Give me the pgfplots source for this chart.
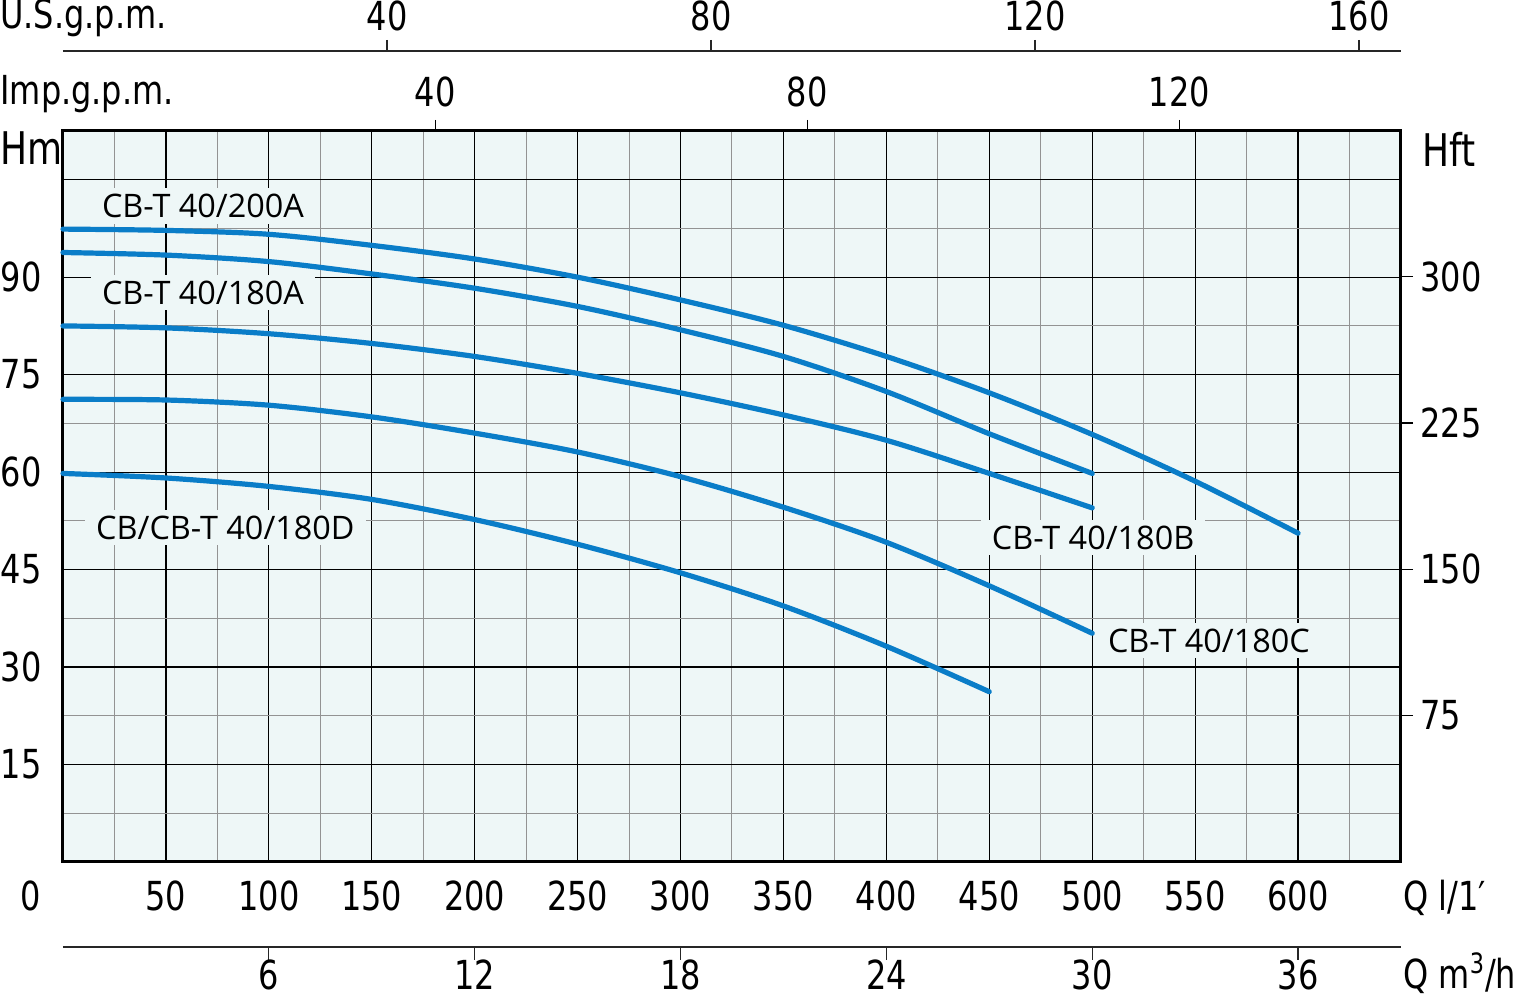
\documentclass[border=0pt]{standalone}
\usepackage{pgfplots}
\pgfplotsset{compat=1.18}
\usepackage{fontspec}
\setmainfont{Open Sans}
\newfontfamily\isofont[FakeStretch=0.8]{DejaVu Sans}
\definecolor{bgc}{HTML}{EEF7F7}
\definecolor{curve}{HTML}{0A7DC8}
\newcommand{\isof}{\isofont\fontsize{20}{20}\selectfont}
\newcommand{\isoH}{\isofont\fontsize{22.5}{22.5}\selectfont}
\tikzset{
  curvelabel/.style={fill=bgc, inner xsep=5.5pt, inner ysep=3pt, anchor=base, font=\fontsize{16.2}{16}\selectfont},
  pump/.style={draw=curve, line width=2.6pt, line cap=round, smooth, tension=0.5, mark=none},
}
\begin{document}
\begin{tikzpicture}
\path[use as bounding box] (-31.5pt,-66.5pt) rectangle (726.5pt,431pt);
% ---------- main axis ----------
\begin{axis}[
  at={(0pt,0pt)}, anchor=south west,
  scale only axis, width=669pt, height=365.5pt,
  xmin=0, xmax=650, ymin=0, ymax=112.5,
  axis background/.style={fill=bgc},
  axis line style={line width=1.5pt, black},
  xtick={50,100,...,600},
  xticklabels={50,100,150,200,250,300,350,400,450,500,550,600},
  ytick={15,30,...,105},
  yticklabels={15,30,45,60,75,90,},
  minor xtick={25,75,...,625},
  minor ytick={7.5,22.5,...,97.5},
  grid=both,
  major grid style={black, line width=0.6pt},
  minor grid style={gray!85, line width=0.5pt},
  major tick length=0pt, minor tick length=0pt,
  ticklabel style={font=\isof, inner sep=0pt},
  xticklabel style={anchor=base, yshift=-24.5pt},
  yticklabel style={anchor=east, xshift=-10.5pt},
  clip=false,
]
% CB-T 40/200A
\addplot[pump] coordinates {(0,97.4) (50,97.2) (100,96.6) (150,94.9) (200,92.8) (250,90.0) (300,86.5) (350,82.6) (400,77.8) (450,72.2) (500,65.8) (550,58.6) (600,50.6)};
% CB-T 40/180A
\addplot[pump] coordinates {(0,93.8) (50,93.4) (100,92.4) (150,90.5) (200,88.3) (250,85.5) (300,81.9) (350,77.8) (400,72.4) (450,65.9) (500,59.8)};
% CB-T 40/180B
\addplot[pump] coordinates {(0,82.5) (50,82.2) (100,81.3) (150,79.8) (200,77.8) (250,75.2) (300,72.2) (350,68.8) (400,64.9) (450,59.8) (500,54.5)};
% CB-T 40/180C
\addplot[pump] coordinates {(0,71.2) (50,71.1) (100,70.3) (150,68.5) (200,66.0) (250,63.1) (300,59.3) (350,54.6) (400,49.2) (450,42.5) (500,35.2)};
% CB/CB-T 40/180D
\addplot[pump] coordinates {(0,59.8) (50,59.1) (100,57.8) (150,55.8) (200,52.7) (250,48.9) (300,44.5) (350,39.4) (400,33.2) (450,26.2)};
\node[curvelabel] at (axis cs:68,99.23) {CB-T 40/200A};
\node[curvelabel] at (axis cs:68,85.85) {CB-T 40/180A};
\node[curvelabel] at (axis cs:78.9,49.69) {CB/CB-T 40/180D};
\node[curvelabel] at (axis cs:500.4,48.15) {CB-T 40/180B};
\node[curvelabel] at (axis cs:556.7,32.31) {CB-T 40/180C};
\end{axis}
% ---------- right axis: feet ----------
\begin{axis}[
  at={(0pt,0pt)}, anchor=south west,
  scale only axis, width=669pt, height=365.5pt,
  xmin=0, xmax=650, ymin=0, ymax=374.625,
  hide x axis, axis y line*=right, y axis line style={draw=none},
  ytick={75,150,225,300}, yticklabels={75,150,225,300},
  tick align=outside, major tick length=6pt,
  tick style={black, line width=0.6pt},
  yticklabel style={font=\isof, anchor=west, inner sep=0pt, xshift=3.5pt},
]
\end{axis}
% ---------- top axis: Imp.g.p.m. ----------
\begin{axis}[
  at={(0pt,0pt)}, anchor=south west,
  scale only axis, width=669pt, height=365.5pt,
  xmin=0, xmax=143.805, ymin=0, ymax=1,
  hide y axis, axis x line*=top, x axis line style={draw=none},
  xtick={40,80,120}, xticklabels={40,80,120},
  tick align=outside, major tick length=5.5pt,
  tick style={black, line width=0.6pt},
  xticklabel style={font=\isof, anchor=base, inner sep=0pt, yshift=6.5pt},
]
\end{axis}
% ---------- top axis: U.S.g.p.m. ----------
\begin{axis}[
  at={(0pt,405.5pt)}, anchor=north west,
  scale only axis, width=669pt, height=10pt,
  xmin=0, xmax=165.18, ymin=0, ymax=1,
  hide y axis, axis x line*=top, x axis line style={-, line width=0.7pt, black!85},
  xtick={40,80,120,160}, xticklabels={40,80,120,160},
  tick align=outside, major tick length=5.5pt,
  tick style={black!85, line width=0.6pt},
  xticklabel style={font=\isof, anchor=base, inner sep=0pt, yshift=4.5pt},
]
\end{axis}
% ---------- bottom axis: m3/h ----------
\begin{axis}[
  at={(0pt,-42.5pt)}, anchor=south west,
  scale only axis, width=669pt, height=10pt,
  xmin=0, xmax=39, ymin=0, ymax=1,
  hide y axis, axis x line*=bottom, x axis line style={-, line width=0.7pt, black!85},
  xtick={6,12,...,36}, xticklabels={6,12,18,24,30,36},
  tick align=outside, major tick length=6.5pt,
  tick style={black!85, line width=0.6pt},
  xticklabel style={font=\isof, anchor=base, inner sep=0pt, yshift=-15pt},
]
\end{axis}
% ---------- titles ----------
\node[anchor=base west, inner sep=0pt, font=\isof] at (-31.5pt,416.5pt) {U.S.g.p.m.};
\node[anchor=base west, inner sep=0pt, font=\isof] at (-31.5pt,378.5pt) {Imp.g.p.m.};
\node[anchor=base west, inner sep=0pt, font=\isoH] at (-31.5pt,348.5pt) {Hm};
\node[anchor=base west, inner sep=0pt, font=\isoH] at (679.5pt,347.5pt) {Hft};
\node[anchor=base, inner sep=0pt, font=\isof] at (-16pt,-24.5pt) {0};
\node[anchor=base west, inner sep=0pt, font=\isof] at (670pt,-24.5pt) {Q l/1′};
\node[anchor=base west, inner sep=0pt, font=\isof] at (670pt,-63.5pt) {Q m\textsuperscript{3}/h};
\end{tikzpicture}
\end{document}
